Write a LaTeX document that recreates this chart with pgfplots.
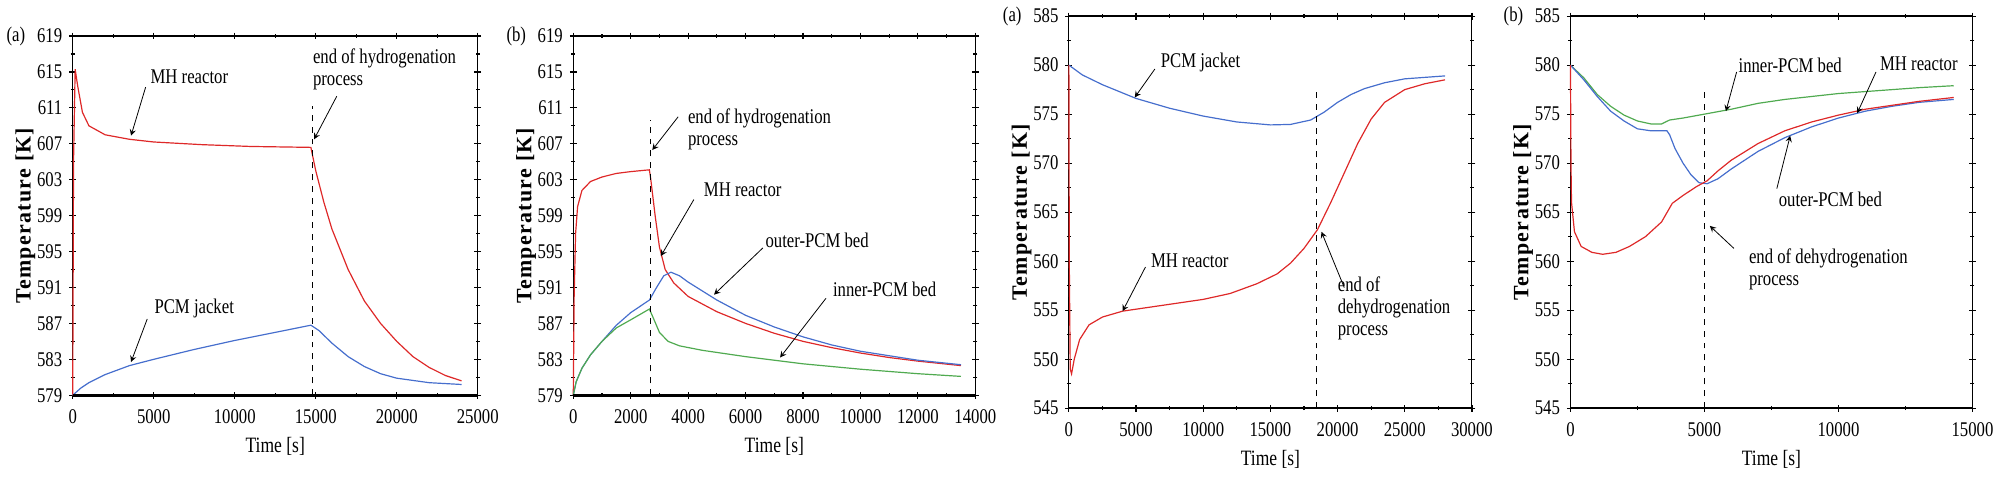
\documentclass[border=0pt]{standalone}
\usepackage{fontspec}
\setmainfont{Liberation Serif}[FakeStretch=0.8]
\newfontfamily\ylabfont{Liberation Serif}[LetterSpace=6]
\usepackage{pgfplots}
\pgfplotsset{compat=1.18}
\definecolor{cr}{RGB}{222,40,40}
\definecolor{cb}{RGB}{70,110,205}
\definecolor{cg}{RGB}{80,170,80}
\tikzset{ann/.style={font=\fontsize{10.5}{11}\selectfont}}
\pgfplotsset{
 base/.style={scale only axis, anchor=south west, height=180.5pt,
  scaled ticks=false,
  axis line style={line width=0.5pt}, tick align=center, tick style={black, line width=0.6pt},
  major tick length=3.5pt, minor tick length=2pt,
  /pgf/number format/assume math mode=true,
  /pgf/number format/set thousands separator={},
  ticklabel style={font=\fontsize{10.5}{11}\selectfont},
  xticklabel style={yshift=-2pt},
  xlabel={Time [s]}, xlabel style={font=\fontsize{11}{12}\selectfont, yshift=0pt},
  ylabel={Temperature [K]}, ylabel style={font=\ylabfont\bfseries\fontsize{11}{12}\selectfont, yshift=-6pt},
  execute at end axis={\draw[line width=1.3pt] (rel axis cs:0,1)--(rel axis cs:1,1); \draw[line width=1.3pt] (rel axis cs:0,0)--(rel axis cs:1,0);},
  every axis plot/.append style={line width=0.6pt, no marks},
  clip=false},
}
\begin{document}
\begin{tikzpicture}
% Panel 1
\begin{axis}[base, at={(34.5pt,42.5pt)}, width=203.5pt,
 xmin=0,xmax=25000, ymin=579,ymax=619, xtick={0,5000,...,25000}, ytick={579,583,...,619},
 minor x tick num=1, minor y tick num=1]
\addplot[cr] coordinates {(0,579)(50,605)(150,615.3)(300,613.5)(600,610.5)(1000,609)(2000,608)(3500,607.5)(5000,607.2)(8000,606.9)(11000,606.7)(14700,606.6)(15000,604)(15500,600.5)(16000,597.5)(17000,593)(18000,589.5)(19000,587)(20000,585)(21000,583.3)(22000,582.1)(23000,581.2)(24000,580.6)};
\addplot[cb] coordinates {(0,579)(500,579.8)(1000,580.4)(2000,581.3)(3500,582.3)(5000,583)(7500,584.1)(10000,585.1)(12500,586)(14700,586.8)(15200,586.2)(16000,584.8)(17000,583.3)(18000,582.2)(19000,581.4)(20000,580.9)(22000,580.4)(24000,580.2)};
\addplot[black, dashed, line width=0.5pt] coordinates {(14800,579)(14800,611.2)};
\node[ann] at (axis cs:7200,614.5) {MH reactor};
\draw[->,>=stealth] (axis cs:4500,613.3)--(axis cs:3600,607.9);
\node[ann,anchor=west,align=left] at (axis cs:14400,615.3) {end of hydrogenation\\process};
\draw[->,>=stealth] (axis cs:16300,612.3)--(axis cs:14900,607.5);
\node[ann] at (axis cs:7500,588.7) {PCM jacket};
\draw[->,>=stealth] (axis cs:4600,587.5)--(axis cs:3600,582.7);
\node[font=\fontsize{10.5}{11}\selectfont, anchor=east] at (rel axis cs:-0.1,1) {(a)};
\end{axis}
% Panel 2
\begin{axis}[base, at={(286pt,42.5pt)}, width=202pt,
 xmin=0,xmax=14000, ymin=579,ymax=619, xtick={0,2000,...,14000}, ytick={579,583,...,619},
 minor x tick num=1, minor y tick num=1]
\addplot[cr] coordinates {(0,579)(30,590)(80,597)(150,600)(300,601.8)(600,602.8)(1000,603.3)(1500,603.7)(2000,603.9)(2650,604.1)(2700,603)(2850,599)(3000,595.5)(3200,593)(3500,591.5)(4000,590)(5000,588.3)(6000,587)(7000,585.9)(8000,585)(9000,584.3)(10000,583.7)(11000,583.2)(12000,582.8)(13500,582.3)};
\addplot[cb] coordinates {(0,579)(100,580.5)(300,582)(600,583.5)(1000,585)(1500,586.8)(2000,588.2)(2650,589.6)(2900,591)(3150,592.3)(3400,592.7)(3700,592.3)(4000,591.6)(5000,589.6)(6000,587.9)(7000,586.6)(8000,585.5)(9000,584.6)(10000,583.9)(11000,583.4)(12000,582.9)(13500,582.4)};
\addplot[cg] coordinates {(0,579)(100,580.5)(300,582)(600,583.5)(1000,585)(1500,586.5)(2000,587.4)(2650,588.6)(2800,587.5)(3000,586)(3300,585)(3700,584.5)(4500,584)(6000,583.3)(8000,582.5)(10000,581.9)(12000,581.4)(13500,581.1)};
\addplot[black, dashed, line width=0.5pt] coordinates {(2700,579)(2700,609.7)};
\node[ann,anchor=west,align=left] at (axis cs:3750,608.6) {end of hydrogenation\\process};
\draw[->,>=stealth] (axis cs:3650,610)--(axis cs:2750,606.3);
\node[ann] at (axis cs:5900,601.9) {MH reactor};
\draw[->,>=stealth] (axis cs:4200,600.8)--(axis cs:3050,594.5);
\node[ann,anchor=west] at (axis cs:6450,596.2) {outer-PCM bed};
\draw[->,>=stealth] (axis cs:6600,595.4)--(axis cs:4900,590.2);
\node[ann,anchor=west] at (axis cs:8800,590.8) {inner-PCM bed};
\draw[->,>=stealth] (axis cs:8800,589.8)--(axis cs:7200,583.2);
\node[font=\fontsize{10.5}{11}\selectfont, anchor=east] at (rel axis cs:-0.1,1) {(b)};
\end{axis}
% Panel 3
\begin{axis}[base, at={(535pt,36pt)}, width=202.5pt, height=197pt,
 xmin=0,xmax=30000, ymin=545,ymax=585, xtick={0,5000,...,30000}, ytick={545,550,...,585},
 minor x tick num=1, minor y tick num=1]
\addplot[cb] coordinates {(0,580)(1000,579)(2500,578)(5000,576.6)(7500,575.6)(10000,574.8)(12500,574.2)(15000,573.9)(16500,573.95)(18000,574.4)(19000,575.2)(20000,576.2)(21000,577)(22000,577.6)(23500,578.2)(25000,578.6)(28000,578.9)};
\addplot[cr] coordinates {(0,580)(30,560)(100,549)(200,548.5)(400,550)(800,552)(1500,553.5)(2500,554.3)(4000,554.9)(6000,555.3)(8000,555.7)(10000,556.1)(12000,556.7)(14000,557.7)(15500,558.7)(16500,559.8)(17500,561.3)(18500,563.2)(19500,566)(20500,569)(21500,572)(22500,574.5)(23500,576.2)(25000,577.5)(26500,578.1)(28000,578.5)};
\addplot[black, dashed, line width=0.5pt] coordinates {(18400,545)(18400,577.5)};
\node[ann] at (axis cs:9800,580.3) {PCM jacket};
\draw[->,>=stealth] (axis cs:6400,579.6)--(axis cs:4900,576.7);
\node[ann] at (axis cs:9000,560) {MH reactor};
\draw[->,>=stealth] (axis cs:5700,559.4)--(axis cs:4000,554.9);
\node[ann,anchor=west,align=left] at (axis cs:19500,555.2) {end of\\dehydrogenation\\process};
\draw[->,>=stealth] (axis cs:20500,557.3)--(axis cs:18800,563);
\node[font=\fontsize{10.5}{11}\selectfont, anchor=east] at (rel axis cs:-0.1,1) {(a)};
\end{axis}
% Panel 4
\begin{axis}[base, at={(787pt,36pt)}, width=202pt, height=197pt,
 xmin=0,xmax=15000, ymin=545,ymax=585, xtick={0,5000,...,15000}, ytick={545,550,...,585},
 minor x tick num=1, minor y tick num=1]
\addplot[cg] coordinates {(0,580)(500,578.7)(1000,577)(1500,575.8)(2000,574.9)(2500,574.3)(3000,574)(3400,574)(3700,574.4)(4200,574.6)(5000,575)(6000,575.5)(7000,576.1)(8000,576.5)(9000,576.8)(10000,577.1)(11000,577.3)(12000,577.5)(13000,577.7)(14300,577.9)};
\addplot[cb] coordinates {(0,580)(500,578.5)(1000,576.8)(1500,575.3)(2000,574.3)(2500,573.5)(3000,573.3)(3600,573.3)(3700,572.9)(3900,571.5)(4200,570)(4500,568.8)(4800,568)(5100,567.9)(5500,568.4)(6000,569.4)(7000,571.2)(8000,572.6)(9000,573.7)(10000,574.6)(11000,575.3)(12000,575.8)(13000,576.2)(14300,576.5)};
\addplot[cr] coordinates {(0,580)(20,570)(40,566)(150,563)(400,561.5)(800,560.9)(1200,560.7)(1700,560.9)(2200,561.5)(2800,562.5)(3400,564)(3800,565.9)(4200,566.7)(4700,567.6)(5100,568.2)(5500,569.2)(6000,570.3)(7000,572)(8000,573.3)(9000,574.2)(10000,574.9)(11000,575.5)(12000,575.9)(13000,576.3)(14300,576.7)};
\addplot[black, dashed, line width=0.5pt] coordinates {(5000,545)(5000,577.7)};
\node[ann] at (axis cs:8200,580) {inner-PCM bed};
\draw[->,>=stealth] (axis cs:6200,579.3)--(axis cs:5800,575.3);
\node[ann] at (axis cs:13000,580.1) {MH reactor};
\draw[->,>=stealth] (axis cs:11400,579.3)--(axis cs:10700,575.1);
\node[ann] at (axis cs:9700,566.3) {outer-PCM bed};
\draw[->,>=stealth] (axis cs:7700,567.4)--(axis cs:8200,572.8);
\node[ann,anchor=west,align=left] at (axis cs:6400,559.2) {end of dehydrogenation\\process};
\draw[->,>=stealth] (axis cs:6100,561.3)--(axis cs:5200,563.6);
\node[font=\fontsize{10.5}{11}\selectfont, anchor=east] at (rel axis cs:-0.1,1) {(b)};
\end{axis}
\useasboundingbox (0,0) rectangle (1000pt,238pt);
\end{tikzpicture}
\end{document}
